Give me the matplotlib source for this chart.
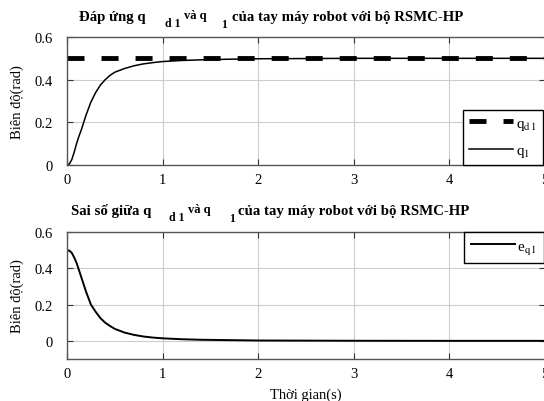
import matplotlib
matplotlib.use('Agg')
import matplotlib.pyplot as plt

plt.rcParams['font.family'] = ['Liberation Serif', 'DejaVu Serif']
plt.rcParams['mathtext.fontset'] = 'stix'

# time samples (s)
t = [0, 0.025, 0.05, 0.075, 0.1, 0.125, 0.15, 0.2, 0.25, 0.3, 0.35, 0.4, 0.45, 0.5,
     0.6, 0.7, 0.8, 0.9, 1.0, 1.2, 1.4, 1.7, 2.0, 3.0, 4.0, 5.0]
# desired position q_d1 (rad)
q_d1 = [0.5] * len(t)
# actual position q_1 (rad)
q_1 = [0, 0.005, 0.025, 0.06, 0.1, 0.135, 0.165, 0.235, 0.295, 0.34, 0.375, 0.4, 0.42, 0.435,
       0.452, 0.465, 0.474, 0.48, 0.485, 0.49, 0.493, 0.496, 0.498, 0.5, 0.5, 0.5]
# tracking error e_q1 (rad)
e_q1 = [0.5, 0.497, 0.485, 0.46, 0.43, 0.39, 0.35, 0.27, 0.2, 0.16, 0.125, 0.1, 0.082, 0.066,
        0.046, 0.033, 0.024, 0.018, 0.014, 0.009, 0.006, 0.004, 0.002, 0.0005, 0, 0]

xticks = [0, 1, 2, 3, 4, 5]
yticks = [0, 0.2, 0.4, 0.6]
ylab = 'Biên độ(rad)'

W, H = 544, 402
fig = plt.figure(figsize=(W / 100, H / 100), dpi=100)


def px(x, y):
    return x / W, 1 - y / H


def setup(ax, ylim):
    ax.set_xlim(0, 5)
    ax.set_ylim(*ylim)
    ax.set_xticks(xticks)
    ax.set_yticks(yticks)
    ax.set_yticklabels(['0', '0.2', '0.4', '0.6'])
    ax.grid(True, color='#cccccc', lw=0.8)
    ax.tick_params(direction='in', length=4, top=True, right=True, labelsize=10.5,
                   color='#333333')
    ax.tick_params(axis='y', pad=10)
    ax.tick_params(axis='x', pad=6)
    for s in ax.spines.values():
        s.set_color('#555555')
        s.set_linewidth(1.0)
    ax.set_ylabel(ylab, fontsize=10.5, labelpad=8)


def title(y, main, xs):
    bold = dict(fontweight='bold', va='baseline', ha='left')
    fig.text(*px(xs[0], y), main, fontsize=10.7, **bold)
    fig.text(*px(xs[1], y + 6), 'd 1', fontsize=8.5, **bold)
    fig.text(*px(xs[2], y - 2), 'và q', fontsize=9, **bold)
    fig.text(*px(xs[3], y + 7), '1', fontsize=8.5, **bold)
    fig.text(*px(xs[4], y), 'của tay máy robot với bộ RSMC-HP', fontsize=10.7, **bold)


l, w = 67 / W, 478 / W
ax1 = fig.add_axes([l, 1 - 166 / H, w, 128 / H])
ax2 = fig.add_axes([l, 1 - 360 / H, w, 127 / H])

ax1.plot(t, q_d1, color='black', lw=3.5, ls=(0, (3.5, 3.5)), label=r'q$_{\mathrm{d\,1}}$')
ax1.plot(t, q_1, color='black', lw=1.1, label=r'q$_{\mathrm{1}}$')
setup(ax1, (0, 0.6))
ax1.legend(loc='lower left', bbox_to_anchor=((463 - 67) / 478, 0.0), frameon=True,
           fancybox=False, edgecolor='black', fontsize=11, handlelength=2.9,
           handletextpad=0.15, borderpad=0.4, borderaxespad=0, framealpha=1,
           labelspacing=0.75)

ax2.plot(t, e_q1, color='black', lw=1.4, label=r'e$_{\mathrm{q\,1}}$')
setup(ax2, (-0.1, 0.6))
ax2.set_xlabel('Thời gian(s)', fontsize=10.5, labelpad=5)
ax2.legend(loc='upper left', bbox_to_anchor=((464 - 67) / 478, 1.0), frameon=True,
           fancybox=False, edgecolor='black', fontsize=11, handlelength=2.9,
           handletextpad=0.15, borderpad=0.45, borderaxespad=0, framealpha=1)

title(21, 'Đáp ứng q', (79, 165, 184, 221, 232))
title(215, 'Sai số giữa q', (71, 169, 188, 229, 238))

fig.savefig('out.png', dpi=100)
